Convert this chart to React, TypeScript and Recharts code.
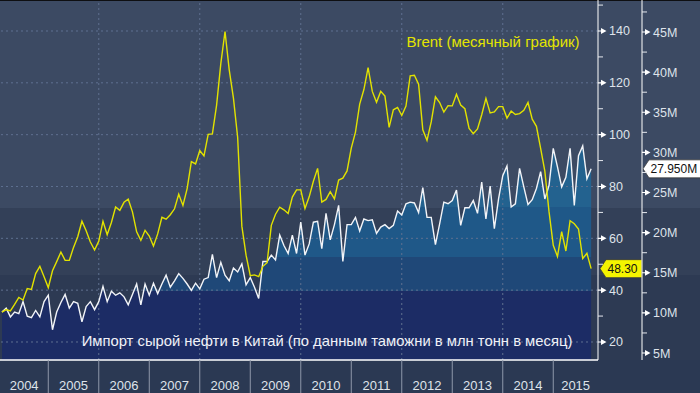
import React from "react";
import { Area, ComposedChart, Line, ReferenceLine, XAxis, YAxis } from "recharts";

// Brent, month-end close, USD/bbl — Jan 2004 .. Sep 2015
const brent = [
  31.5, 32.5, 32.0, 34.5, 37.2, 36.2, 40.6, 40.3, 46.4, 49.2, 45.2, 41.0,
  47.5, 51.0, 54.7, 51.5, 51.5, 56.5, 60.6, 66.6, 62.9, 58.6, 55.5, 58.9,
  66.6, 61.4, 66.1, 72.1, 70.8, 73.9, 75.1, 70.2, 62.5, 59.2, 63.1, 60.9,
  57.0, 61.7, 68.1, 67.4, 69.1, 71.4, 77.0, 72.7, 79.2, 89.6, 88.7, 93.9,
  91.8, 100.1, 100.3, 111.4, 127.4, 139.8, 125.0, 114.1, 99.0, 64.7, 53.5, 45.6,
  45.9, 45.2, 49.2, 50.6, 65.0, 69.3, 72.0, 71.0, 69.6, 75.9, 78.7, 78.7,
  71.5, 76.0, 82.0, 87.0, 74.0, 75.0, 78.0, 75.2, 82.5, 83.2, 86.0, 94.8,
  101.0, 111.8, 117.4, 125.9, 116.7, 112.5, 116.7, 114.9, 102.8, 109.6, 110.5, 107.4,
  111.0, 122.7, 122.9, 119.5, 101.9, 97.8, 104.9, 114.6, 112.4, 108.7, 111.2, 111.1,
  115.6, 111.4, 110.0, 102.4, 100.4, 102.2, 107.7, 114.0, 108.4, 108.8, 110.8, 110.8,
  106.4, 109.1, 107.8, 108.1, 109.4, 112.4, 106.0, 103.2, 94.7, 85.9, 70.2, 57.3,
  53.0, 62.6, 55.1, 66.8, 65.6, 63.6, 52.2, 54.2, 48.3,
];

// China crude imports, million tonnes per month — same months
const imports = [
  10.1, 10.6, 9.5, 10.1, 9.9, 11.4, 9.6, 9.4, 10.3, 9.5, 11.4, 12.2,
  7.9, 10.1, 11.3, 12.3, 10.6, 11.4, 11.2, 8.9, 10.8, 11.4, 10.4, 11.4,
  13.3, 11.4, 12.7, 12.2, 12.5, 12.0, 11.0, 12.3, 13.6, 11.0, 13.6, 12.2,
  13.7, 12.4, 13.6, 14.7, 13.2, 14.0, 14.9, 14.3, 13.6, 12.8, 13.7, 13.0,
  14.2, 14.4, 17.3, 14.4, 16.3, 14.7, 14.0, 15.6, 15.1, 16.1, 13.5, 14.4,
  13.2, 11.8, 16.4, 16.4, 17.2, 16.6, 19.7, 18.4, 17.4, 19.7, 17.4, 21.3,
  17.2, 18.6, 21.3, 21.4, 18.0, 22.4, 19.1, 21.0, 23.4, 16.4, 21.0, 21.0,
  21.9, 20.2, 21.7, 21.5, 21.6, 19.9, 20.7, 21.0, 20.5, 20.9, 22.7, 22.2,
  23.6, 23.8, 23.7, 22.5, 25.6, 21.9, 21.9, 18.5, 21.1, 23.8, 23.6, 24.0,
  25.3, 20.9, 23.1, 23.1, 24.0, 22.4, 26.3, 21.7, 25.8, 20.5, 24.2, 27.1,
  28.3, 23.2, 23.6, 28.0, 25.7, 23.5, 24.1, 25.5, 27.6, 24.2, 25.9, 30.5,
  28.2, 25.7, 26.9, 30.5, 23.4, 29.6, 30.8, 26.7, 27.95,
];

const START_YEAR = 2004;
const years = [2004, 2005, 2006, 2007, 2008, 2009, 2010, 2011, 2012, 2013, 2014, 2015];
const gridYears = [2006, 2008, 2010, 2012, 2014];
const brentGrid = [20, 40, 60, 80, 100, 120, 140];
const brentTicks = [20, 30, 40, 50, 60, 70, 80, 90, 100, 110, 120, 130, 140, 150];
const importTicks = [5, 7.5, 10, 12.5, 15, 17.5, 20, 22.5, 25, 27.5, 30, 32.5, 35, 37.5, 40, 42.5, 45, 47.5];

const X_MIN = 2004.044;
const X_MAX = 2015.886;
const BRENT_DOMAIN: [number, number] = [13.05, 151.96];
const IMPORT_DOMAIN: [number, number] = [4.13, 48.99];

const FONT = '"Liberation Sans", Arial, sans-serif';
const LABEL = "#dfe3ea";

// points sit at month end
const data = brent.map((b, i) => ({ t: START_YEAR + (i + 1) / 12, brent: b, imp: imports[i] }));

const lastBrent = brent[brent.length - 1];
const lastImport = imports[imports.length - 1];

// year separators on the boundaries, labels centred in the visible part of each year
const xTicks = [
  ...years.slice(1),
  ...years.map((y) => (Math.max(y, X_MIN) + Math.min(y + 1, X_MAX)) / 2),
];

function YearTick({ x, y, payload }: any) {
  const v = payload.value;
  if (Number.isInteger(v)) {
    return <line x1={x} x2={x} y1={y} y2={y + 33} stroke="#8e98aa" strokeWidth={1} />;
  }
  return (
    <text x={x} y={y + 30} textAnchor="middle" fill={LABEL} fontSize={13} fontFamily={FONT}>
      {Math.floor(v)}
    </text>
  );
}

function makeAxisTick(isMajor: (v: number) => boolean, fmt: (v: number) => string) {
  return function AxisTick({ x, y, payload }: any) {
    const v = payload.value;
    if (!isMajor(v)) {
      return <line x1={x} x2={x + 5} y1={y} y2={y} stroke="#e6e9ef" strokeWidth={1} />;
    }
    return (
      <g>
        <path
          d={`M${x},${y - 0.6}L${x + 3},${y - 0.6}L${x + 3},${y - 3}L${x + 8.5},${y}L${x + 3},${y + 3}L${x + 3},${y + 0.6}L${x},${y + 0.6}Z`}
          fill="#ffffff"
        />
        <text x={x + 11} y={y + 4.5} fill={LABEL} fontSize={12.5} fontFamily={FONT}>
          {fmt(v)}
        </text>
      </g>
    );
  };
}

const BrentTick = makeAxisTick((v) => v % 20 === 0, (v) => String(v));
const ImportTick = makeAxisTick((v) => v % 5 === 0, (v) => `${v}M`);

// last-value tag drawn at a given offset from the plot's right edge
function ValueTag({ viewBox, offset, width, text, fill }: any) {
  if (!viewBox) return null;
  const x0 = viewBox.x + viewBox.width + offset;
  const y = viewBox.y;
  const h = 9;
  return (
    <g>
      <path
        d={`M${x0},${y}L${x0 + 6},${y - h}L${x0 + width},${y - h}L${x0 + width},${y + h}L${x0 + 6},${y + h}Z`}
        fill={fill}
        stroke="#3a3a3a"
        strokeWidth={0.8}
      />
      <text x={x0 + 7.5} y={y + 4.5} fill="#111" fontSize={12} fontFamily={FONT}>
        {text}
      </text>
    </g>
  );
}

export default function App() {
  return (
    <>
      <style>{`body{margin:0}`}</style>
      <div
        style={{
          position: "relative",
          width: 700,
          height: 393,
          fontFamily: FONT,
          background:
            "linear-gradient(to bottom, #0e0f12 0px, #0e0f12 1px, #3c4a63 1px, #3c4a63 208px, #334058 208px, #334058 275px, #2d3a53 275px, #2d3a53 360px, #2b3953 360px, #2b3953 393px)",
        }}
      >
        <ComposedChart width={700} height={393} data={data} margin={{ top: 0, right: 0, bottom: 0, left: 0 }}>
          <defs>
            {/* banded fill under the imports line */}
            <linearGradient id="impFill" gradientUnits="userSpaceOnUse" x1="0" y1="0" x2="0" y2="360">
              <stop offset="0" stopColor="#23628f" />
              <stop offset="0.575" stopColor="#23628f" />
              <stop offset="0.575" stopColor="#1f5888" />
              <stop offset="0.714" stopColor="#1f5888" />
              <stop offset="0.714" stopColor="#1f4878" />
              <stop offset="0.808" stopColor="#1f4878" />
              <stop offset="0.808" stopColor="#1c2c65" />
              <stop offset="1" stopColor="#1c2c65" />
            </linearGradient>
          </defs>

          <XAxis
            dataKey="t"
            type="number"
            domain={[X_MIN, X_MAX]}
            allowDataOverflow
            ticks={xTicks}
            interval={0}
            tickSize={0}
            tickMargin={0}
            height={33}
            axisLine={{ stroke: "#ffffff", strokeWidth: 1.5 }}
            tickLine={false}
            tick={<YearTick />}
          />
          <YAxis
            yAxisId="brent"
            orientation="right"
            width={44}
            domain={BRENT_DOMAIN}
            allowDataOverflow
            ticks={brentTicks}
            interval={0}
            tickSize={0}
            tickMargin={0}
            axisLine={{ stroke: "#ffffff" }}
            tickLine={false}
            tick={<BrentTick />}
          />
          <YAxis
            yAxisId="imp"
            orientation="right"
            width={58}
            domain={IMPORT_DOMAIN}
            allowDataOverflow
            ticks={importTicks}
            interval={0}
            tickSize={0}
            tickMargin={0}
            axisLine={{ stroke: "#ffffff" }}
            tickLine={false}
            tick={<ImportTick />}
          />

          <Area
            yAxisId="imp"
            type="linear"
            dataKey="imp"
            stroke="none"
            fill="url(#impFill)"
            fillOpacity={1}
            activeDot={false}
            isAnimationActive={false}
          />

          {brentGrid.map((v) => (
            <ReferenceLine key={`h${v}`} yAxisId="brent" y={v} stroke="#5f7090" strokeDasharray="2 3" />
          ))}
          {gridYears.map((yr) => (
            <ReferenceLine key={`v${yr}`} yAxisId="brent" x={yr} stroke="#5f7090" strokeDasharray="2 3" />
          ))}

          <Line
            yAxisId="imp"
            type="linear"
            dataKey="imp"
            stroke="#f2f4f8"
            strokeWidth={1.4}
            dot={false}
            activeDot={false}
            isAnimationActive={false}
          />
          <Line
            yAxisId="brent"
            type="linear"
            dataKey="brent"
            stroke="#e2e200"
            strokeWidth={1.4}
            dot={false}
            activeDot={false}
            isAnimationActive={false}
          />

          <ReferenceLine
            yAxisId="brent"
            y={lastBrent}
            stroke="none"
            label={(p: any) => (
              <ValueTag viewBox={p.viewBox} offset={2} width={42} text={lastBrent.toFixed(2)} fill="#f4f400" />
            )}
          />
          <ReferenceLine
            yAxisId="imp"
            y={lastImport}
            stroke="none"
            label={(p: any) => (
              <ValueTag viewBox={p.viewBox} offset={45} width={60} text={`${lastImport.toFixed(3)}M`} fill="#ffffff" />
            )}
          />
        </ComposedChart>

        <svg width={700} height={393} style={{ position: "absolute", left: 0, top: 0, pointerEvents: "none" }}>
          <text x={493} y={47} textAnchor="middle" fill="#e4e400" fontSize={15} fontFamily={FONT}>
            Brent (месячный график)
          </text>
          <text x={327} y={346} textAnchor="middle" fill="#f0f2f8" fontSize={14.8} fontFamily={FONT}>
            Импорт сырой нефти в Китай (по данным таможни в млн тонн в месяц)
          </text>
        </svg>
      </div>
    </>
  );
}
